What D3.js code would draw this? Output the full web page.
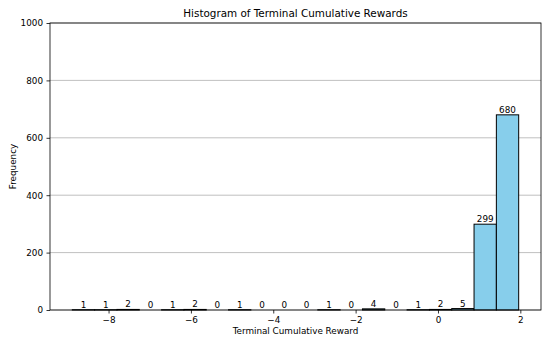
<!DOCTYPE html>
<html>
<head>
<meta charset="utf-8">
<script src="https://cdn.jsdelivr.net/npm/d3@7"></script>
<style>
  body { margin: 0; background: #fff; }
  text { font-family: "DejaVu Sans", sans-serif; fill: #000; }
</style>
</head>
<body>
<script>
let width = 550;
let height = 344;

// histogram data
let counts = [1, 1, 2, 0, 1, 2, 0, 1, 0, 0, 0, 1, 0, 4, 0, 1, 2, 5, 299, 680];
let dataMin = -8.88;
let dataMax = 1.96;
let xTicks = [-8, -6, -4, -2, 0, 2];
let yTicks = [0, 200, 400, 600, 800, 1000];

let margin = {top: 23, right: 9, bottom: 34, left: 50};

let binW = (dataMax - dataMin) / counts.length;
let bins = counts.map(function(c, i) {
    return {x0: dataMin + i * binW, x1: dataMin + (i + 1) * binW, n: c};
});

let pad = (dataMax - dataMin) * 0.05;

let xScale = d3.scaleLinear()
                .domain([dataMin - pad, dataMax + pad])
                .range([margin.left, width - margin.right]);

let yScale = d3.scaleLinear()
                .domain([0, 1000])
                .range([height - margin.bottom, margin.top]);

let svg = d3.select('body').append('svg')
            .attr('width', width)
            .attr('height', height);

// grid
svg.append('g')
    .selectAll('line')
    .data(yTicks)
    .enter()
    .append('line')
    .attr('x1', margin.left)
    .attr('x2', width - margin.right)
    .attr('y1', function(d) { return yScale(d); })
    .attr('y2', function(d) { return yScale(d); })
    .attr('stroke', '#b0b0b0')
    .attr('stroke-width', 0.8);

// bars
svg.append('g')
    .selectAll('rect')
    .data(bins)
    .enter()
    .append('rect')
    .attr('x', function(d) { return xScale(d.x0); })
    .attr('width', function(d) { return xScale(d.x1) - xScale(d.x0); })
    .attr('y', function(d) { return yScale(d.n); })
    .attr('height', function(d) { return yScale(0) - yScale(d.n); })
    .attr('fill', '#87ceeb')
    .attr('stroke', '#000')
    .attr('stroke-width', 1);

// bar labels
svg.append('g')
    .selectAll('text')
    .data(bins)
    .enter()
    .append('text')
    .attr('x', function(d) { return (xScale(d.x0) + xScale(d.x1)) / 2; })
    .attr('y', function(d) { return yScale(d.n) - 2; })
    .attr('text-anchor', 'middle')
    .attr('font-size', '8.8px')
    .text(function(d) { return d.n; });

// axes
let fmt = function(d) { return d < 0 ? '\u2212' + Math.abs(d) : d; };

let xAxis = svg.append('g')
    .attr('transform', 'translate(0,' + (height - margin.bottom) + ')')
    .call(d3.axisBottom(xScale).tickValues(xTicks).tickFormat(fmt).tickSize(3.5).tickPadding(3.5));

let yAxis = svg.append('g')
    .attr('transform', 'translate(' + margin.left + ',0)')
    .call(d3.axisLeft(yScale).tickValues(yTicks).tickFormat(d3.format('d')).tickSize(3.5).tickPadding(3.5));

[xAxis, yAxis].forEach(function(a) {
    a.select('.domain').remove();
    a.selectAll('text').attr('font-size', '8.8px').attr('font-family', '"DejaVu Sans", sans-serif').attr('fill', '#000');
    a.selectAll('line').attr('stroke', '#000').attr('stroke-width', 0.8);
});

// frame
svg.append('rect')
    .attr('x', margin.left)
    .attr('y', margin.top)
    .attr('width', width - margin.right - margin.left)
    .attr('height', height - margin.bottom - margin.top)
    .attr('fill', 'none')
    .attr('stroke', '#000')
    .attr('stroke-width', 0.8);

// titles
svg.append('text')
    .attr('x', (margin.left + width - margin.right) / 2)
    .attr('y', 17)
    .attr('text-anchor', 'middle')
    .attr('font-size', '10.4px')
    .text('Histogram of Terminal Cumulative Rewards');

svg.append('text')
    .attr('x', (margin.left + width - margin.right) / 2)
    .attr('y', 334)
    .attr('text-anchor', 'middle')
    .attr('font-size', '8.8px')
    .text('Terminal Cumulative Reward');

svg.append('text')
    .attr('transform', 'translate(16,' + ((margin.top + height - margin.bottom) / 2) + ') rotate(-90)')
    .attr('text-anchor', 'middle')
    .attr('font-size', '8.8px')
    .text('Frequency');
</script>
</body>
</html>
